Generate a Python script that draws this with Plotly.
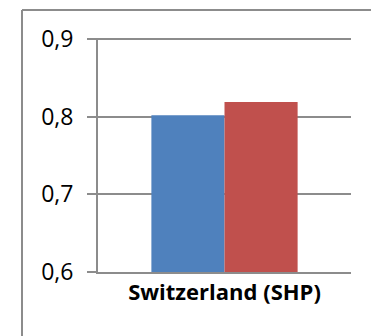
import plotly.graph_objects as go

categories = ["Switzerland (SHP)"]
series_a = [0.802]
series_b = [0.819]
y_ticks = [0.6, 0.7, 0.8, 0.9]
y_tick_labels = ["0,6", "0,7", "0,8", "0,9"]

axis_grey = "#8c8c8c"
font_family = "Open Sans, Lato, sans-serif"

fig = go.Figure()
fig.add_trace(go.Bar(x=categories, y=series_a, marker=dict(color="#4F81BD", line=dict(width=0)),
                     base=0))
fig.add_trace(go.Bar(x=categories, y=series_b, marker=dict(color="#C0504D", line=dict(width=0)),
                     base=0))

fig.update_layout(
    width=371, height=336,
    margin=dict(l=98, r=20, t=38, b=64),
    paper_bgcolor="white", plot_bgcolor="white",
    barmode="group", bargap=0.422, bargroupgap=0,
    showlegend=False,
    font=dict(family=font_family, color="black"),
)
fig.update_yaxes(
    range=[0.6, 0.9015], tickvals=y_ticks, ticktext=y_tick_labels,
    showgrid=True, gridcolor=axis_grey, gridwidth=2,
    showline=True, linecolor=axis_grey, linewidth=2,
    ticks="outside", ticklen=9, tickwidth=2, tickcolor=axis_grey,
    tickfont=dict(size=23, family=font_family), ticklabelstandoff=9,
    zeroline=False,
)
fig.update_xaxes(
    showline=True, linecolor=axis_grey, linewidth=2, ticks="",
    tickfont=dict(size=22, family=font_family, weight="bold"),
)

# outer chart frame: left and top edges, ending at the canvas border
plot_w = 371 - 98 - 20
plot_h = 336 - 38 - 64
frame_x = (22 - 98) / plot_w
frame_y = 1 + (38 - 10) / plot_h
right_edge = (371 - 98) / plot_w
bottom_edge = -64 / plot_h
fig.add_shape(type="line", xref="paper", yref="paper",
              x0=frame_x, x1=frame_x, y0=bottom_edge, y1=frame_y,
              line=dict(color=axis_grey, width=2))
fig.add_shape(type="line", xref="paper", yref="paper",
              x0=frame_x, x1=right_edge, y0=frame_y, y1=frame_y,
              line=dict(color=axis_grey, width=2))

fig.write_html("out.html")
